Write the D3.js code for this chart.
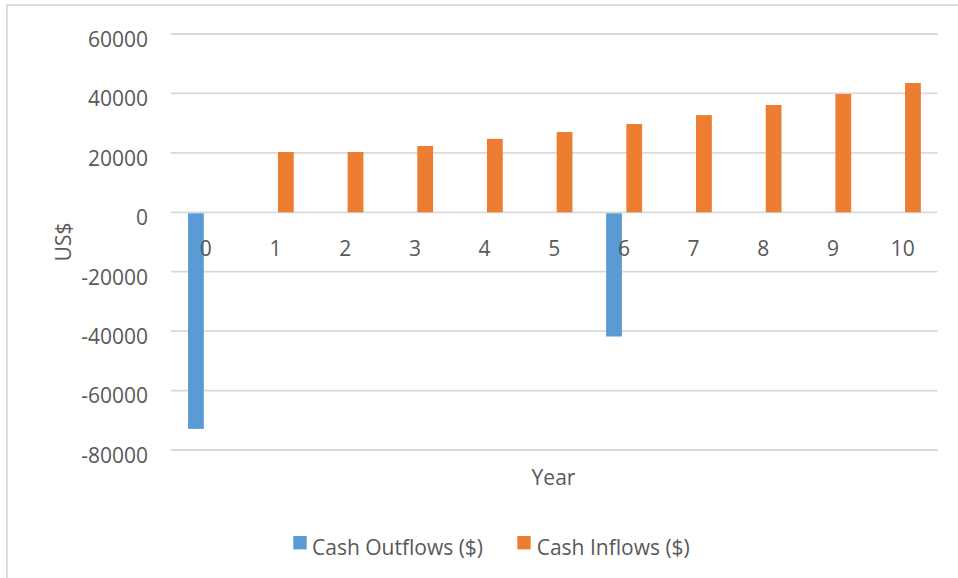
<!DOCTYPE html>
<html>
<head>
<meta charset="utf-8">
<script src="https://cdn.jsdelivr.net/npm/d3@7"></script>
<style>
  html, body { margin: 0; padding: 0; background: #fff; overflow: hidden; }
  svg { display: block; font-family: "Open Sans", sans-serif; }
</style>
</head>
<body>
<svg id="chart" width="958" height="578"></svg>
<script>
// ---- data ----
const years = ["0", "1", "2", "3", "4", "5", "6", "7", "8", "9", "10"];
const cashOutflows = [-72900, null, null, null, null, null, -41800, null, null, null, null];
const cashInflows = [null, 20300, 20300, 22300, 24700, 27000, 29700, 32700, 36100, 39800, 43500];
const seriesNames = ["Cash Outflows ($)", "Cash Inflows ($)"];
const seriesColors = ["#5B9BD5", "#ED7D31"];
const yTicks = [60000, 40000, 20000, 0, -20000, -40000, -60000, -80000];
const yTitle = "US$";
const xTitle = "Year";

// ---- layout ----
const svg = d3.select("#chart");
const textColor = "#595959";
const gridColor = "#D9D9D9";

// chart border
svg.append("rect")
  .attr("x", 7).attr("y", 5)
  .attr("width", 960).attr("height", 590)
  .attr("fill", "none")
  .attr("stroke", gridColor)
  .attr("stroke-width", 1.8);

const plotLeft = 171, plotRight = 937.5, plotTop = 34, plotBottom = 450;

const x = d3.scaleBand().domain(years).range([plotLeft, plotRight]).paddingInner(0).paddingOuter(0);
const y = d3.scaleLinear().domain([-80000, 60000]).range([plotBottom, plotTop]);

const bw = x.bandwidth();
const x1 = d3.scaleBand().domain(seriesNames)
  .range([bw / 2 - 17.8, bw / 2 + 18.2]).paddingInner(0.22).paddingOuter(0);

// gridlines
svg.append("g").selectAll("line").data(yTicks).join("line")
  .attr("x1", plotLeft).attr("x2", plotRight)
  .attr("y1", d => y(d)).attr("y2", d => y(d))
  .attr("stroke", gridColor).attr("stroke-width", 1.8);

// y axis labels (plain hyphen for negatives)
const yAxis = svg.append("g")
  .attr("transform", `translate(${148},0)`)
  .call(d3.axisLeft(y).tickValues(yTicks).tickSize(0).tickPadding(0).tickFormat(d => String(d)));
yAxis.select(".domain").remove();
yAxis.selectAll("text")
  .attr("dy", null).attr("y", 12.3)
  .attr("fill", textColor)
  .style("font-size", "21px")
  .style("font-family", "'Open Sans', sans-serif");

// bars
const series = [cashOutflows, cashInflows];
const barData = [];
series.forEach((vals, si) => {
  vals.forEach((v, i) => {
    if (v !== null) barData.push({ year: years[i], value: v, s: seriesNames[si], color: seriesColors[si] });
  });
});
svg.append("g").selectAll("rect").data(barData).join("rect")
  .attr("x", d => x(d.year) + x1(d.s))
  .attr("width", x1.bandwidth())
  .attr("y", d => Math.min(y(0), y(d.value)) + (d.value < 0 ? 1 : 0))
  .attr("height", d => Math.abs(y(d.value) - y(0)) - (d.value < 0 ? 1 : 0))
  .attr("fill", d => d.color);

// x axis labels (at zero line)
const xAxis = svg.append("g")
  .attr("transform", `translate(0,${y(0)})`)
  .call(d3.axisBottom(x).tickSize(0).tickPadding(0));
xAxis.select(".domain").remove();
xAxis.selectAll("text")
  .attr("dy", null).attr("y", 43.7)
  .attr("fill", textColor)
  .style("font-size", "21px")
  .style("font-family", "'Open Sans', sans-serif");

// axis titles
svg.append("text")
  .attr("transform", `translate(70.5,${(plotTop + plotBottom) / 2}) rotate(-90)`)
  .attr("text-anchor", "middle")
  .attr("fill", textColor)
  .style("font-size", "21px")
  .text(yTitle);

svg.append("text")
  .attr("x", 553.5).attr("y", 485)
  .attr("text-anchor", "middle")
  .attr("fill", textColor)
  .style("font-size", "21px")
  .text(xTitle);

// legend
const legendItems = [
  { name: seriesNames[0], color: seriesColors[0], sx: 293.3, tx: 312 },
  { name: seriesNames[1], color: seriesColors[1], sx: 517.3, tx: 536.7 }
];
const lg = svg.append("g");
lg.selectAll("rect").data(legendItems).join("rect")
  .attr("x", d => d.sx).attr("y", 536)
  .attr("width", 13.4).attr("height", 13.4)
  .attr("fill", d => d.color);
lg.selectAll("text").data(legendItems).join("text")
  .attr("x", d => d.tx).attr("y", 555)
  .attr("fill", textColor)
  .style("font-size", "21px")
  .text(d => d.name);
</script>
</body>
</html>
